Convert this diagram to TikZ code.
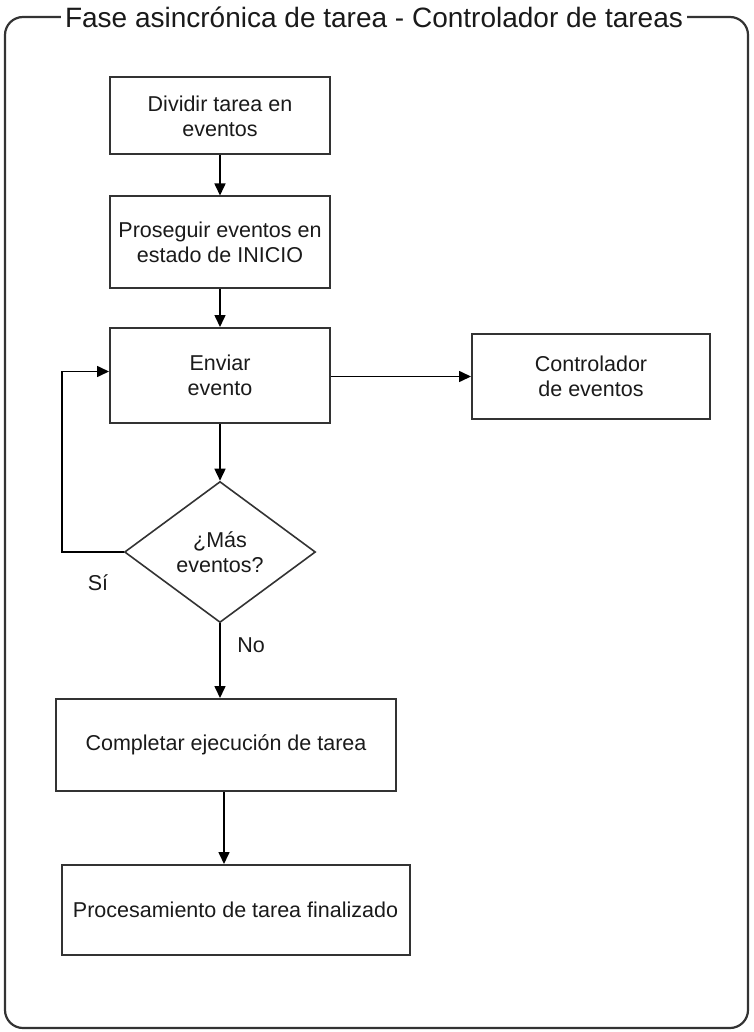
\documentclass[tikz,border=0pt]{standalone}
\usepackage{fontspec}
\setmainfont{Liberation Sans}
\usetikzlibrary{shapes.geometric,arrows.meta}
\definecolor{edge}{HTML}{333333}
\definecolor{ink}{HTML}{1A1A1A}
\begin{document}
\begin{tikzpicture}[x=1pt,y=-1pt,
  every node/.style={text=ink,font=\fontsize{21.5}{25}\selectfont},
  stepbox/.style={draw=edge,line width=2pt,rectangle,align=center,inner sep=0pt},
  decision/.style={draw=edge,line width=1.6pt,diamond,aspect=1.35,align=center,inner sep=0pt,
    minimum width=191pt,minimum height=141pt},
  flow/.style={draw=black,line width=1.6pt,-{Triangle[length=12pt,width=11pt]}},
  frame/.style={draw=edge,line width=2.2pt,rounded corners=18pt}]
  \useasboundingbox (0,0) rectangle (753,1032);

  % outer frame with its caption
  \draw[frame] (5,17) rectangle (748,1028);
  \node[fill=white,inner sep=4pt,font=\fontsize{28}{31}\selectfont] (title) at (374,17)
    {Fase asincrónica de tarea - Controlador de tareas};

  % steps of the flow
  \node[stepbox,minimum width=220pt,minimum height=77pt] (split) at (220,116)
    {Dividir tarea en\\eventos};
  \node[stepbox,minimum width=220pt,minimum height=91pt] (cont) at (220,242)
    {Proseguir eventos en\\estado de INICIO};
  \node[stepbox,minimum width=220pt,minimum height=95pt] (send) at (220,375.5)
    {Enviar\\evento};
  \node[stepbox,minimum width=238pt,minimum height=85pt] (ctl) at (591,376.5)
    {Controlador\\de eventos};
  \node[decision] (more) at (220,552) {¿Más\\eventos?};
  \node[stepbox,minimum width=340pt,minimum height=92pt] (done) at (226,745)
    {Completar ejecución de tarea};
  \node[stepbox,minimum width=348pt,minimum height=90pt] (fin) at (235.5,910)
    {Procesamiento de tarea finalizado};

  % connectors
  \draw[flow] (split) -- (cont);
  \draw[flow] (cont) -- (send);
  \draw[flow] (send.east |- ctl.west) -- (ctl.west);
  \draw[flow] (send) -- (more);
  \coordinate (loopx) at (62,552);
  \coordinate (loopin) at ([yshift=4pt]send.west);
  \draw[flow] (more.west) -- (loopx) |- (loopin);
  \draw[flow] (more.south) -- (more.south |- done.north);
  \draw[flow] ([xshift=-2pt]done.south) -- ([xshift=-2pt]done.south |- fin.north);

  % branch labels
  \node (yes) at (98,583) {Sí};
  \node (no) at (251,645) {No};
\end{tikzpicture}
\end{document}
